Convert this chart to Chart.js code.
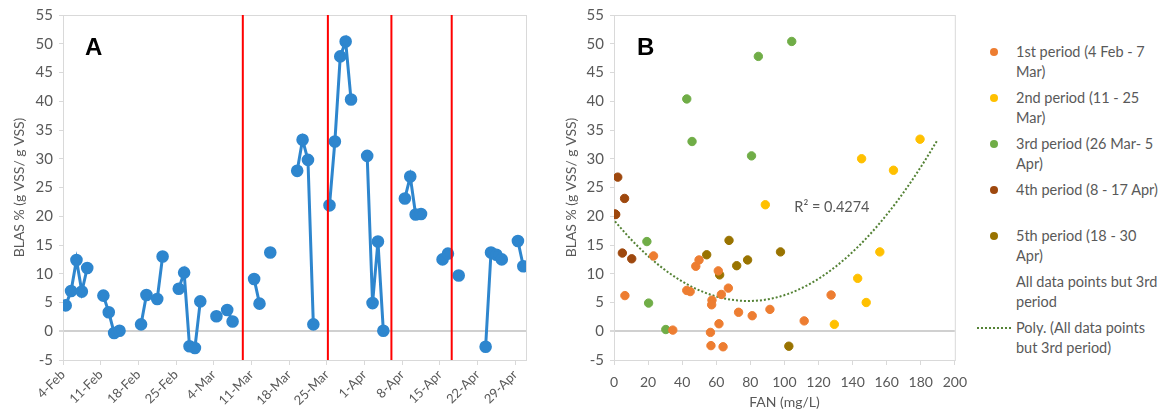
<!DOCTYPE html>
<html>
<head>
<meta charset="utf-8">
<script src="https://cdn.jsdelivr.net/npm/chart.js@4.4.1/dist/chart.umd.min.js"></script>
<style>
  body { margin: 0; background: #fff; width: 1166px; height: 415px; overflow: hidden; position: relative; font-family: Lato, sans-serif; }
  #chartA { position: absolute; left: 0; top: 0; }
  #chartB { position: absolute; left: 548px; top: 0; }
  #legendB { position: absolute; left: 977px; top: 42px; color: #595959; font-size: 14.5px; line-height: 19.5px; }
  #legendB .item { display: flex; height: 46px; }
  #legendB .sym { width: 34px; height: 19.5px; margin-right: 5px; position: relative; flex: none; }
  #legendB .dot { position: absolute; left: 13px; top: 5.5px; width: 8px; height: 8px; border-radius: 50%; }
  #legendB .dash { position: absolute; left: 0; right: 0; top: 9px; border-top: 2px dotted #548235; }
  #legendB .txt { width: 150px; }
</style>
</head>
<body>
<canvas id="chartA" width="540" height="415"></canvas>
<canvas id="chartB" width="428" height="415"></canvas>
<div id="legendB"></div>
<script>
// ---- panel A: BLAS over time ----
const blasDates = ['4-Feb', '5-Feb', '6-Feb', '7-Feb', '8-Feb', '11-Feb', '12-Feb', '13-Feb', '14-Feb',
  '18-Feb', '19-Feb', '21-Feb', '22-Feb', '25-Feb', '26-Feb', '27-Feb', '28-Feb', '1-Mar', '4-Mar',
  '6-Mar', '7-Mar', '11-Mar', '12-Mar', '14-Mar', '19-Mar', '20-Mar', '21-Mar', '22-Mar', '25-Mar',
  '26-Mar', '27-Mar', '28-Mar', '29-Mar', '1-Apr', '2-Apr', '3-Apr', '4-Apr', '8-Apr', '9-Apr',
  '10-Apr', '11-Apr', '15-Apr', '16-Apr', '18-Apr', '23-Apr', '24-Apr', '25-Apr', '26-Apr', '29-Apr', '30-Apr'];
const blasValues = [4.5, 7.0, 12.4, 6.9, 11.0, 6.2, 3.3, -0.3, 0.1,
  1.2, 6.3, 5.6, 13.0, 7.4, 10.2, -2.6, -2.9, 5.2, 2.6,
  3.7, 1.7, 9.1, 4.8, 13.7, 27.9, 33.3, 29.8, 1.2, 21.9,
  33.0, 47.8, 50.4, 40.3, 30.5, 4.9, 15.6, 0.1, 23.1, 26.9,
  20.3, 20.4, 12.5, 13.5, 9.7, -2.7, 13.7, 13.3, 12.5, 15.7, 11.3];
const dateTicks = ['4-Feb', '11-Feb', '18-Feb', '25-Feb', '4-Mar', '11-Mar', '18-Mar', '25-Mar',
  '1-Apr', '8-Apr', '15-Apr', '22-Apr', '29-Apr'];
// period separators, in days after 4-Feb
const periodBreaks = [33.4, 49.2, 61.0, 72.2];

// ---- panel B: BLAS vs FAN, per period ----
const fan1 = [6.4, 23.2, 34.5, 42.7, 44.7, 48.0, 49.9, 57.5, 57.3, 56.6, 56.9, 61.2, 63.0, 67.1, 61.6, 64.0, 73.1, 81.1, 91.5, 111.6, 127.4];
const blas1 = [6.2, 13.1, 0.2, 7.1, 6.9, 11.3, 12.4, 5.4, 4.6, -0.2, -2.5, 10.5, 6.4, 7.5, 1.3, -2.7, 3.3, 2.7, 3.8, 1.8, 6.3];
const fan2 = [88.8, 179.6, 145.3, 164.0, 156.0, 143.0, 148.0, 129.3];
const blas2 = [22.0, 33.4, 30.0, 28.0, 13.8, 9.2, 5.0, 1.2];
const fan3 = [42.7, 45.8, 84.7, 104.3, 80.7, 19.3, 20.3, 30.4];
const blas3 = [40.4, 33.0, 47.8, 50.4, 30.5, 15.6, 4.9, 0.3];
const fan4 = [2.2, 6.2, 0.6, 1.0, 4.9, 10.4];
const blas4 = [26.8, 23.1, 20.4, 20.3, 13.6, 12.6];
const fan5 = [54.4, 67.5, 72.0, 78.4, 97.7, 62.0, 102.6];
const blas5 = [13.3, 15.8, 11.4, 12.4, 13.8, 9.8, -2.6];
const periodNames = ['1st period (4 Feb - 7 Mar)', '2nd period (11 - 25 Mar)', '3rd period (26 Mar- 5 Apr)',
  '4th period (8 - 17 Apr)', '5th period (18 - 30 Apr)'];
const periodColors = ['#ED7D31', '#FFC000', '#70AD47', '#9E480E', '#997300'];
const rSquaredText = 'R\u00B2 = 0.4274';

const textGrey = '#595959';
const axisGrey = '#D9D9D9';
const lineBlue = '#2E86CE';
const tickFont = { family: 'Lato', size: 15 };
const smallFont = { family: 'Lato', size: 13 };
const bTickFont = { family: 'Lato', size: 14 };
const titleFont = { family: 'Lato', size: 14 };

const monthStart = { Feb: 0, Mar: 28, Apr: 59 };
const dayIndex = s => { const [d, m] = s.split('-'); return monthStart[m] + Number(d) - 4; };

// box around the plot area
const frame = {
  id: 'frame',
  beforeDatasetsDraw(chart) {
    const { ctx, chartArea: a } = chart;
    ctx.save();
    ctx.strokeStyle = axisGrey;
    ctx.lineWidth = 1;
    ctx.strokeRect(a.left + 0.5, a.top + 0.5, a.width, a.height);
    ctx.restore();
  }
};

// big panel letter in the top-left corner
const panelLetter = {
  id: 'panelLetter',
  afterDraw(chart, args, opts) {
    const { ctx, chartArea: a } = chart;
    ctx.save();
    ctx.font = 'bold 24px "Liberation Sans", Arial, sans-serif';
    ctx.fillStyle = '#000';
    ctx.textBaseline = 'alphabetic';
    ctx.fillText(opts.text, a.left + opts.dx, a.top + 40);
    ctx.restore();
  }
};

const periodLines = {
  id: 'periodLines',
  afterDatasetsDraw(chart, args, opts) {
    const { ctx, chartArea: a, scales: { x } } = chart;
    ctx.save();
    ctx.strokeStyle = '#FF0000';
    ctx.lineWidth = 2;
    opts.days.forEach(d => {
      const px = x.getPixelForValue(d);
      ctx.beginPath();
      ctx.moveTo(px, a.top);
      ctx.lineTo(px, a.bottom);
      ctx.stroke();
    });
    ctx.restore();
  }
};

const zeroGrid = {
  color: c => c.tick && c.tick.value === 0 ? '#D0D0D0' : 'transparent',
  lineWidth: c => c.tick && c.tick.value === 0 ? 2 : 1,
  tickColor: axisGrey,
  tickLength: 4
};

new Chart(document.getElementById('chartA'), {
  type: 'line',
  data: {
    datasets: [{
      label: 'BLAS',
      // points sit in the middle of their day
      data: blasDates.map((d, i) => ({ x: dayIndex(d) + 0.5, y: blasValues[i] })),
      borderColor: lineBlue,
      backgroundColor: lineBlue,
      borderWidth: 3,
      pointRadius: 4.8,
      pointHoverRadius: 4.8,
      spanGaps: 1.5,
      tension: 0
    }]
  },
  options: {
    responsive: false,
    animation: false,
    layout: { padding: { top: 13, right: 14, left: 0, bottom: 0 } },
    plugins: {
      legend: { display: false },
      tooltip: { enabled: false },
      panelLetter: { text: 'A', dx: 22 },
      periodLines: { days: periodBreaks }
    },
    scales: {
      x: {
        type: 'linear',
        min: 0,
        max: dayIndex('30-Apr') + 1,
        afterBuildTicks: s => { s.ticks = dateTicks.map(t => ({ value: dayIndex(t) })); },
        afterFit: s => { s.height = 55; },
        ticks: {
          callback: (v, i) => dateTicks[i],
          minRotation: 45, maxRotation: 45, autoSkip: false,
          color: textGrey, font: smallFont, padding: 2
        },
        grid: { drawOnChartArea: false, color: axisGrey, tickLength: 5 },
        border: { color: axisGrey }
      },
      y: {
        min: -5, max: 55,
        afterFit: s => { s.width = 63; },
        ticks: { stepSize: 5, color: textGrey, font: tickFont, padding: 6 },
        title: { display: true, text: 'BLAS % (g VSS/ g VSS)', color: textGrey, font: titleFont, padding: { top: 11, bottom: 0 } },
        grid: zeroGrid,
        border: { color: axisGrey }
      }
    }
  },
  plugins: [frame, panelLetter, periodLines]
});

// quadratic least-squares fit, y = c0 + c1 x + c2 x^2
function quadFit(xs, ys) {
  const S = k => xs.reduce((a, x) => a + x ** k, 0);
  const T = k => xs.reduce((a, x, i) => a + ys[i] * x ** k, 0);
  const M = [[S(0), S(1), S(2)], [S(1), S(2), S(3)], [S(2), S(3), S(4)]];
  const b = [T(0), T(1), T(2)];
  const det = m => m[0][0] * (m[1][1] * m[2][2] - m[1][2] * m[2][1])
    - m[0][1] * (m[1][0] * m[2][2] - m[1][2] * m[2][0])
    + m[0][2] * (m[1][0] * m[2][1] - m[1][1] * m[2][0]);
  const D = det(M);
  return [0, 1, 2].map(c => det(M.map((row, r) => row.map((v, j) => (j === c ? b[r] : v)))) / D);
}

const fans = [fan1, fan2, fan3, fan4, fan5];
const blases = [blas1, blas2, blas3, blas4, blas5];
// every period except the 3rd goes into the trend
const trendX = [].concat(fan1, fan2, fan4, fan5);
const trendY = [].concat(blas1, blas2, blas4, blas5);
const coef = quadFit(trendX, trendY);
const xLo = Math.min(...trendX), xHi = Math.max(...trendX) + 10;
const trendPts = [];
for (let k = 0; k <= 80; k++) {
  const x = xLo + (xHi - xLo) * k / 80;
  trendPts.push({ x, y: coef[0] + coef[1] * x + coef[2] * x * x });
}

const periodSets = periodNames.map((name, p) => ({
  label: name,
  data: fans[p].map((x, i) => ({ x, y: blases[p][i] })),
  backgroundColor: periodColors[p],
  borderColor: periodColors[p],
  pointRadius: 4.2,
  pointHoverRadius: 4.2,
  symbol: 'dot'
}));

// R² text next to the trend curve, placed in data units
const rLabel = {
  id: 'rLabel',
  afterDraw(chart, args, opts) {
    const { ctx, scales: { x, y } } = chart;
    ctx.save();
    ctx.font = '14.5px Lato';
    ctx.fillStyle = textGrey;
    ctx.textBaseline = 'middle';
    ctx.fillText(opts.text, x.getPixelForValue(opts.at[0]), y.getPixelForValue(opts.at[1]));
    ctx.restore();
  }
};

const chartB = new Chart(document.getElementById('chartB'), {
  type: 'scatter',
  data: {
    datasets: periodSets.concat([
      {
        label: 'All data points but 3rd period',
        data: trendX.map((x, i) => ({ x, y: trendY[i] })),
        pointRadius: 0,
        pointHoverRadius: 0,
        symbol: 'none'
      },
      {
        label: 'Poly. (All data points but 3rd period)',
        data: trendPts,
        showLine: true,
        borderColor: '#548235',
        borderWidth: 2,
        borderDash: [2, 2],
        pointRadius: 0,
        pointHoverRadius: 0,
        symbol: 'dash'
      }
    ])
  },
  options: {
    responsive: false,
    animation: false,
    layout: { padding: { top: 13, right: 0, left: 0, bottom: 0 } },
    plugins: {
      legend: { display: false },
      tooltip: { enabled: false },
      panelLetter: { text: 'B', dx: 23 },
      rLabel: { text: rSquaredText, at: [105.8, 21.5] }
    },
    scales: {
      x: {
        min: 0, max: 200,
        afterFit: s => { s.height = 55; },
        ticks: { stepSize: 20, maxRotation: 0, autoSkip: false, color: textGrey, font: bTickFont, padding: 9 },
        title: { display: true, text: 'FAN (mg/L)', color: textGrey, font: titleFont, padding: { top: 5 } },
        grid: { drawOnChartArea: false, color: axisGrey, tickLength: 5 },
        border: { color: axisGrey }
      },
      y: {
        min: -5, max: 55,
        afterFit: s => { s.width = 66; },
        ticks: { stepSize: 5, color: textGrey, font: tickFont, padding: 6 },
        title: { display: true, text: 'BLAS % (g VSS/ g VSS)', color: textGrey, font: titleFont, padding: { top: 15, bottom: 0 } },
        grid: zeroGrid,
        border: { color: axisGrey }
      }
    }
  },
  plugins: [frame, panelLetter, rLabel]
});

// legend on the right, built from the datasets
const legendBox = document.getElementById('legendB');
chartB.data.datasets.forEach(ds => {
  const item = document.createElement('div');
  item.className = 'item';
  const sym = document.createElement('div');
  sym.className = 'sym';
  if (ds.symbol === 'dot') {
    const dot = document.createElement('div');
    dot.className = 'dot';
    dot.style.background = ds.backgroundColor;
    sym.appendChild(dot);
  } else if (ds.symbol === 'dash') {
    const dash = document.createElement('div');
    dash.className = 'dash';
    sym.appendChild(dash);
  }
  const txt = document.createElement('div');
  txt.className = 'txt';
  txt.textContent = ds.label;
  item.appendChild(sym);
  item.appendChild(txt);
  legendBox.appendChild(item);
});
</script>
</body>
</html>
